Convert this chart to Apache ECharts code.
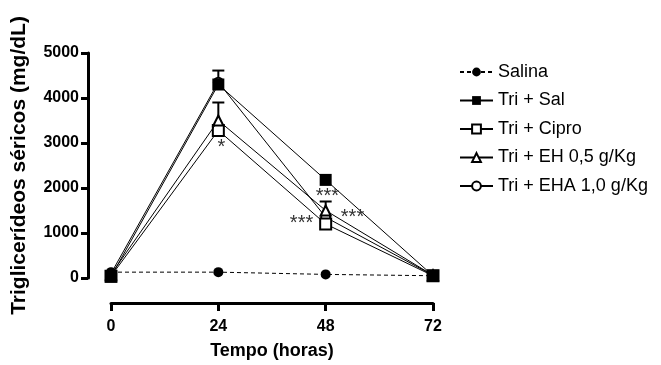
<!DOCTYPE html>
<html>
<head>
<meta charset="utf-8">
<script src="https://cdn.jsdelivr.net/npm/echarts@6/dist/echarts.min.js"></script>
<style>html,body{margin:0;padding:0;background:#fff;}#c{width:661px;height:365px;}</style>
</head>
<body>
<div id="c"></div>
<script>
const hours = [0, 24, 48, 72];
const xTicks = ['0', '24', '48', '72'];
const seriesNames = ['Salina', 'Tri + Sal', 'Tri + Cipro', 'Tri + EH 0,5 g/Kg', 'Tri + EHA 1,0 g/Kg'];
const salina   = [130, 130, 80, 50];
const triSal   = [30, 4300, 2180, 50];
const triCipro = [40, 3280, 1200, 50];
const triEH05  = [80, 3500, 1500, 60];
const triEHA10 = [100, 4350, 1350, 60];
// upward error bars (SEM)
const errTriSal = [0, 310, 0, 0];
const errEH05   = [0, 400, 200, 0];
// significance annotations: [text, hour, value]
const stars = [['*', 24.7, 2900], ['***', 48.4, 1820], ['***', 42.6, 1210], ['***', 54.0, 1340]];

const FONT = "'Liberation Sans', Arial, sans-serif";
const pairs = (ys) => hours.map((h, i) => [h, ys[i]]);

const errData = [];
hours.forEach((h, i) => {
  if (errTriSal[i] > 0) errData.push([h, triSal[i], triSal[i] + errTriSal[i]]);
  if (errEH05[i] > 0) errData.push([h, triEH05[i], triEH05[i] + errEH05[i]]);
});

function lineSeries(name, ys, symbol, size, dashed, z) {
  return {
    name: name, type: 'line', data: pairs(ys), symbol: symbol, symbolSize: size,
    z: z, animation: false,
    lineStyle: { color: '#000', width: 1, type: dashed ? [4, 3] : 'solid' },
    itemStyle: { color: '#000', borderColor: '#000', borderWidth: symbol.indexOf('empty') === 0 ? 2 : 0 },
    emphasis: { disabled: true }
  };
}

const chart = echarts.init(document.getElementById('c'));
chart.setOption({
  backgroundColor: '#fff',
  animation: false,
  grid: { left: 111, right: 228, top: 53, bottom: 85 },
  xAxis: {
    type: 'value', min: 0, max: 72, interval: 24, offset: 25,
    name: 'Tempo (horas)', nameLocation: 'middle', nameGap: 39,
    nameTextStyle: { fontFamily: FONT, fontSize: 18, fontWeight: 'bold', color: '#000' },
    axisLine: { show: true, onZero: false, lineStyle: { color: '#000', width: 3 } },
    axisTick: { show: true, length: 8, lineStyle: { color: '#000', width: 3 } },
    axisLabel: { fontFamily: FONT, fontSize: 16, fontWeight: 'bold', color: '#000', margin: 16,
                 formatter: (v) => xTicks[hours.indexOf(v)] },
    splitLine: { show: false }
  },
  yAxis: {
    type: 'value', min: 0, max: 5000, interval: 1000, offset: 23,
    name: 'Triglicerídeos séricos (mg/dL)', nameLocation: 'middle', nameGap: 58,
    nameTextStyle: { fontFamily: FONT, fontSize: 21, fontWeight: 'bold', color: '#000' },
    axisLine: { show: true, onZero: false, lineStyle: { color: '#000', width: 3 } },
    axisTick: { show: true, length: 7, lineStyle: { color: '#000', width: 3 } },
    axisLabel: { fontFamily: FONT, fontSize: 16, fontWeight: 'bold', color: '#000', margin: 9,
                 formatter: (v) => String(v) },
    splitLine: { show: false }
  },
  legend: {
    data: seriesNames, orient: 'vertical', left: 454, top: 57,
    itemWidth: 33, itemHeight: 11, itemGap: 8.5,
    textStyle: { fontFamily: FONT, fontSize: 18, color: '#000', lineHeight: 20 },
    selectedMode: false
  },
  series: [
    {
      type: 'custom', z: 1, animation: false, silent: true,
      data: errData,
      renderItem: function (params, api) {
        const p = api.coord([api.value(0), api.value(1)]);
        const t = api.coord([api.value(0), api.value(2)]);
        return { type: 'group', children: [
          { type: 'line', shape: { x1: p[0], y1: p[1], x2: t[0], y2: t[1] }, style: { stroke: '#000', lineWidth: 2 } },
          { type: 'line', shape: { x1: t[0] - 6, y1: t[1], x2: t[0] + 6, y2: t[1] }, style: { stroke: '#000', lineWidth: 2 } }
        ]};
      }
    },
    lineSeries(seriesNames[0], salina, 'circle', 10, true, 2),
    lineSeries(seriesNames[4], triEHA10, 'emptyCircle', 9, false, 3),
    lineSeries(seriesNames[1], triSal, 'rect', 12, false, 6),
    lineSeries(seriesNames[2], triCipro, 'emptyRect', 11, false, 4),
    lineSeries(seriesNames[3], triEH05, 'emptyTriangle', 10, false, 5),
    {
      type: 'custom', z: 7, animation: false, silent: true,
      data: stars.map(s => [s[1], s[2]]),
      renderItem: function (params, api) {
        const p = api.coord([api.value(0), api.value(1)]);
        return { type: 'text', x: p[0], y: p[1], style: {
          text: stars[params.dataIndex][0], fontFamily: FONT, fontSize: 20,
          fill: '#333', align: 'center', verticalAlign: 'middle' } };
      }
    }
  ]
});
</script>
</body>
</html>
